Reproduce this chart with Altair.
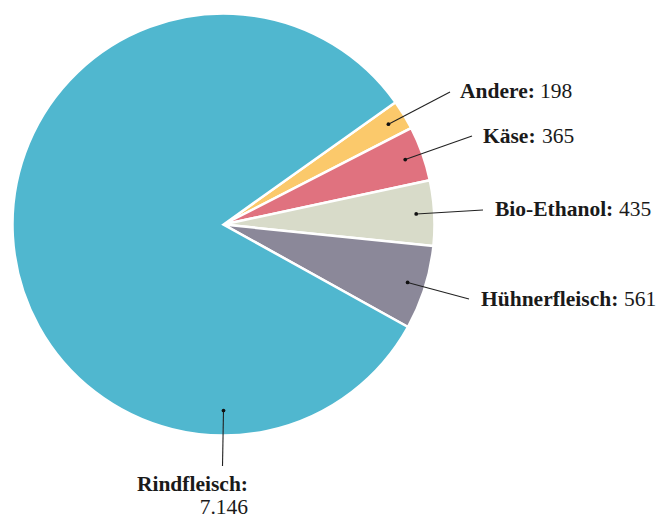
import math
import altair as alt
import pandas as pd

# ---- data ----
categories = ["Andere", "Käse", "Bio-Ethanol", "Hühnerfleisch", "Rindfleisch"]
values = [198, 365, 435, 561, 7146]
value_labels = ["198", "365", "435", "561", "7.146"]
colors = ["#fbc96b", "#e0727f", "#d8dbc9", "#8b8899", "#50b7cf"]

# ---- layout (chart pixel coordinates; page adds 8px margin) ----
W, H = 654, 513
cx, cy, R = 215.5, 216.5, 211
start_deg = 54.6
dot_r = [193, 193, 193, 193, 186]
dot_angle_override = [None, None, None, None, 180.0]
line_end = [(442, 84), (464, 128), (475, 202), (461, 291), (214.5, 458)]
name_pos = [(452, 83.5), (475, 128.5), (487, 202), (473, 291.5), (240, 477)]
value_pos = [(532, 83.5), (534, 128.5), (611, 202), (616, 291.5), (240, 499.5)]
FS = 21.5

total = sum(values)
rows = []
cum = 0
for i, (c, v) in enumerate(zip(categories, values)):
    mid = start_deg + (cum + v / 2) / total * 360
    cum += v
    ang = dot_angle_override[i] if dot_angle_override[i] is not None else mid
    a = math.radians(ang)
    rows.append(dict(
        cat=c, val=v, vlabel=value_labels[i], order=i,
        dx=cx + dot_r[i] * math.sin(a), dy=cy - dot_r[i] * math.cos(a),
        lx=line_end[i][0], ly=line_end[i][1],
        nx=name_pos[i][0], ny=name_pos[i][1],
        vx=value_pos[i][0], vy=value_pos[i][1],
        name=c + ":", side="right" if c == "Rindfleisch" else "left",
    ))
df = pd.DataFrame(rows)

start = math.radians(start_deg)
base = alt.Chart(df)

pie = base.mark_arc(stroke="white", strokeWidth=2.5, radius=R).encode(
    theta=alt.Theta("val:Q", stack=True,
                    scale=alt.Scale(range=[start, start + 2 * math.pi])),
    color=alt.Color("cat:N", scale=alt.Scale(domain=categories, range=colors), legend=None),
    order=alt.Order("order:Q"),
    x=alt.value(cx), y=alt.value(cy),
)

lines = base.mark_rule(color="#222222", strokeWidth=1.1).encode(
    x=alt.X("dx:Q", scale=None), y=alt.Y("dy:Q", scale=None),
    x2="lx:Q", y2="ly:Q",
)
dots = base.mark_circle(color="#111111", size=14, opacity=1).encode(
    x=alt.X("dx:Q", scale=None), y=alt.Y("dy:Q", scale=None),
)

font = "Liberation Serif"
left = base.transform_filter(alt.datum.side == "left")
right = base.transform_filter(alt.datum.side == "right")

names_l = left.mark_text(align="left", baseline="middle", font=font, fontSize=FS,
                         fontWeight="bold", color="#1a1a1a").encode(
    x=alt.X("nx:Q", scale=None), y=alt.Y("ny:Q", scale=None), text="name:N")
vals_l = left.mark_text(align="left", baseline="middle", font=font, fontSize=FS,
                        color="#1a1a1a").encode(
    x=alt.X("vx:Q", scale=None), y=alt.Y("vy:Q", scale=None), text="vlabel:N")
names_r = right.mark_text(align="right", baseline="middle", font=font, fontSize=FS,
                          fontWeight="bold", color="#1a1a1a").encode(
    x=alt.X("nx:Q", scale=None), y=alt.Y("ny:Q", scale=None), text="name:N")
vals_r = right.mark_text(align="right", baseline="middle", font=font, fontSize=FS,
                         color="#1a1a1a").encode(
    x=alt.X("vx:Q", scale=None), y=alt.Y("vy:Q", scale=None), text="vlabel:N")

chart = alt.layer(pie, lines, dots, names_l, vals_l, names_r, vals_r).properties(
    width=W, height=H, padding=0, autosize=alt.AutoSizeParams(type="none"),
).configure_view(stroke=None)

chart.save("out.html", embed_options={"renderer": "svg", "actions": False})
